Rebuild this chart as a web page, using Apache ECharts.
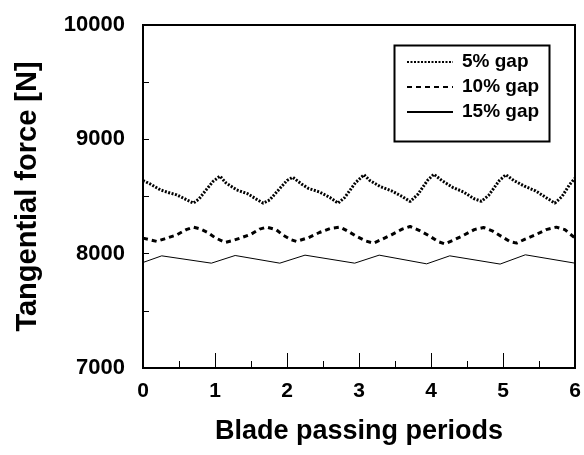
<!DOCTYPE html>
<html><head><meta charset="utf-8">
<script src="https://cdn.jsdelivr.net/npm/echarts@6/dist/echarts.min.js"></script>
<style>html,body{margin:0;padding:0;background:#fff}#c{width:584px;height:455px}</style>
</head><body><div id="c"></div>
<script>
const seriesNames = ['5% gap', '10% gap', '15% gap'];
const x5 = [0.00,0.10,0.24,0.35,0.47,0.58,0.70,0.78,0.88,0.97,1.07,1.15,1.30,1.45,1.58,1.67,1.76,1.90,2.00,2.08,2.20,2.30,2.45,2.60,2.71,2.80,2.95,3.07,3.15,3.30,3.45,3.60,3.71,3.82,3.95,4.04,4.15,4.30,4.45,4.60,4.70,4.80,4.95,5.04,5.15,5.30,5.45,5.60,5.72,5.82,5.92,6.00];
const y5 = [8640,8610,8558,8535,8514,8480,8442,8480,8560,8630,8678,8620,8558,8525,8475,8442,8470,8570,8640,8668,8610,8570,8540,8490,8442,8490,8620,8690,8640,8585,8550,8500,8456,8520,8640,8695,8640,8580,8540,8480,8458,8510,8640,8690,8640,8590,8550,8490,8442,8500,8600,8660];
const x10 = [0.00,0.19,0.30,0.47,0.60,0.70,0.80,0.90,1.00,1.14,1.25,1.35,1.50,1.62,1.72,1.85,1.95,2.06,2.13,2.30,2.45,2.60,2.74,2.85,2.97,3.10,3.20,3.30,3.45,3.60,3.71,3.85,3.99,4.10,4.19,4.30,4.45,4.60,4.73,4.85,4.98,5.10,5.19,5.30,5.45,5.60,5.74,5.86,6.00];
const y10 = [8136,8107,8130,8165,8210,8232,8215,8185,8140,8098,8115,8136,8170,8215,8232,8210,8160,8121,8107,8140,8185,8220,8232,8195,8150,8110,8092,8120,8165,8215,8238,8200,8150,8105,8086,8115,8160,8210,8229,8200,8150,8105,8092,8125,8165,8210,8232,8210,8136];
const x15 = [0.00,0.26,0.95,1.28,1.90,2.25,2.94,3.28,3.94,4.26,4.96,5.31,6.00];
const y15 = [7923,7981,7917,7984,7917,7987,7917,7987,7911,7981,7909,7990,7917];
const xTicks = [0,1,2,3,4,5,6];
const yTicks = [7000,8000,9000,10000];

const pair = (xs, ys) => xs.map((x, i) => [x, ys[i]]);
const FONT = "'Liberation Sans', Arial, sans-serif";
const chart = echarts.init(document.getElementById('c'), null, {renderer: 'canvas'});
chart.setOption({
  animation: false,
  backgroundColor: '#fff',
  grid: {left: 143, right: 9, top: 25, bottom: 87, show: true, borderColor: '#000', borderWidth: 2},
  xAxis: {
    type: 'value', min: xTicks[0], max: xTicks[xTicks.length - 1], interval: 1,
    name: 'Blade passing periods', nameLocation: 'middle', nameGap: 50,
    nameTextStyle: {fontFamily: FONT, fontWeight: 'bold', fontSize: 27, color: '#000'},
    axisLine: {lineStyle: {color: '#000', width: 2}},
    axisTick: {inside: true, length: 15, lineStyle: {color: '#000', width: 1}},
    minorTick: {show: true, splitNumber: 2, length: 7, lineStyle: {color: '#000', width: 1}},
    splitLine: {show: false},
    axisLabel: {fontFamily: FONT, fontWeight: 'bold', fontSize: 21, color: '#000', margin: 13,
      formatter: v => String(v)}
  },
  yAxis: {
    type: 'value', min: yTicks[0], max: yTicks[yTicks.length - 1], interval: 1000,
    name: 'Tangential force [N]', nameLocation: 'middle', nameGap: 101, nameRotate: 90,
    nameTextStyle: {fontFamily: FONT, fontWeight: 'bold', fontSize: 29, color: '#000'},
    axisLine: {lineStyle: {color: '#000', width: 2}},
    axisTick: {inside: true, length: 6, lineStyle: {color: '#000', width: 1}},
    minorTick: {show: true, splitNumber: 2, length: 6, lineStyle: {color: '#000', width: 1}},
    splitLine: {show: false},
    axisLabel: {fontFamily: FONT, fontWeight: 'bold', fontSize: 22, color: '#000', margin: 18,
      formatter: v => String(v)}
  },
  legend: {
    orient: 'vertical', left: 401, top: 47, itemWidth: 46, itemHeight: 12, itemGap: 5,
    itemStyle: {opacity: 0},
    textStyle: {fontFamily: FONT, fontWeight: 'bold', fontSize: 19, color: '#000', lineHeight: 20, padding: [0,0,0,4]},
    data: seriesNames
  },
  graphic: [{type: 'rect', left: 392, top: 43, shape: {width: 155, height: 96}, style: {fill: 'none', stroke: '#000', lineWidth: 2}, z: 10}],
  series: [
    {name: seriesNames[0], type: 'line', showSymbol: false, symbol: 'none', data: pair(x5, y5),
     lineStyle: {color: '#000', width: 3, type: [2, 1.5]}, itemStyle: {color: '#000'}},
    {name: seriesNames[1], type: 'line', showSymbol: false, symbol: 'none', data: pair(x10, y10),
     lineStyle: {color: '#000', width: 3, type: [5, 4]}, itemStyle: {color: '#000'}},
    {name: seriesNames[2], type: 'line', showSymbol: false, symbol: 'none', data: pair(x15, y15),
     lineStyle: {color: '#000', width: 1}, itemStyle: {color: '#000'}}
  ]
});
</script></body></html>
